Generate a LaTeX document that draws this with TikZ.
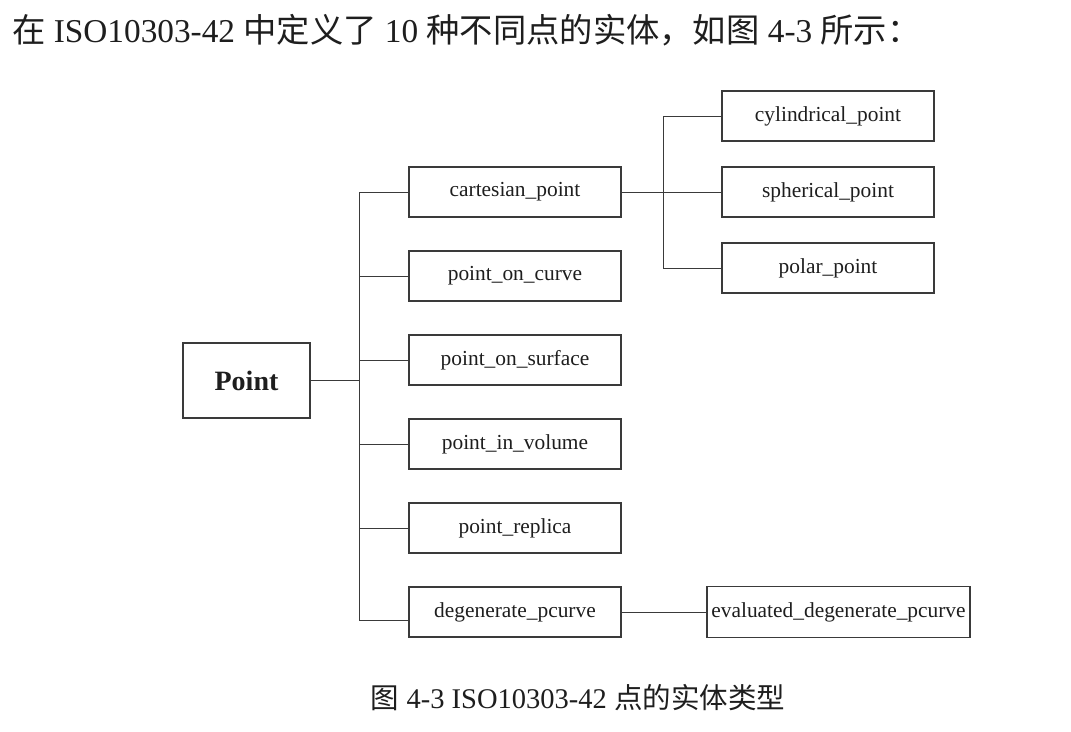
\documentclass[tikz,border=0pt]{standalone}
\usepackage{fontspec}
\setmainfont{Liberation Serif}
\newfontfamily\cjk{Noto Sans CJK SC}
\definecolor{lineC}{HTML}{3A3A3A}
\definecolor{txtC}{HTML}{1E1E1E}
\begin{document}
\begin{tikzpicture}[x=1pt,y=-1pt,
  box/.style={draw=lineC,line width=1.3pt,text=txtC,inner sep=0pt,minimum width=212pt,minimum height=50pt,
    font=\fontsize{21.4}{25}\selectfont},
  conn/.style={draw=lineC,line width=1pt},
  txt/.style={text=txtC,inner sep=0pt}]
\useasboundingbox[fill=white] (0,0) rectangle (1071,731);

\node[txt,anchor=west,font=\fontsize{33.3}{38}\selectfont] (head) at (12,30)
  {{\cjk 在} ISO10303-42 {\cjk 中定义了} 10 {\cjk 种不同点的实体，如图} 4-3 {\cjk 所示：}};

\node[box,minimum width=127pt,minimum height=75pt,font=\fontsize{28}{33}\selectfont\bfseries] (P) at (246.5,380.5) {Point};

\node[box] (c1) at (515,192) {cartesian\_point};
\node[box] (c2) at (515,276) {point\_on\_curve};
\node[box] (c3) at (515,360) {point\_on\_surface};
\node[box] (c4) at (515,444) {point\_in\_volume};
\node[box] (c5) at (515,528) {point\_replica};
\node[box] (c6) at (515,612) {degenerate\_pcurve};

\node[box] (s1) at (828,116) {cylindrical\_point};
\node[box] (s2) at (828,192) {spherical\_point};
\node[box] (s3) at (828,268) {polar\_point};

\node[box,minimum width=263pt,minimum height=51pt] (ev) at (838.5,612) {evaluated\_degenerate\_pcurve};

\node[txt,font=\fontsize{28.5}{33}\selectfont] (cap) at (578,698)
  {{\cjk 图} 4-3 ISO10303-42 {\cjk 点的实体类型}};

% trunk
\coordinate (tTop) at (359,192);
\coordinate (tBot) at (359,620);
\draw[conn] (tTop) -- (tBot);
\draw[conn] (P.east) -- (P.east -| tTop);
\draw[conn] (c1.west) -- (c1.west -| tTop);
\draw[conn] (c2.west) -- (c2.west -| tTop);
\draw[conn] (c3.west) -- (c3.west -| tTop);
\draw[conn] (c4.west) -- (c4.west -| tTop);
\draw[conn] (c5.west) -- (c5.west -| tTop);
\draw[conn] ([yshift=-8pt]c6.west) -- (tBot);

% sub-branch
\coordinate (sTop) at (663,116);
\draw[conn] (c1.east) -- (s2.west);
\draw[conn] (s1.west) -- (s1.west -| sTop) -- (s3.west -| sTop) -- (s3.west);

\draw[conn] (c6.east) -- (ev.west);
\end{tikzpicture}
\end{document}
